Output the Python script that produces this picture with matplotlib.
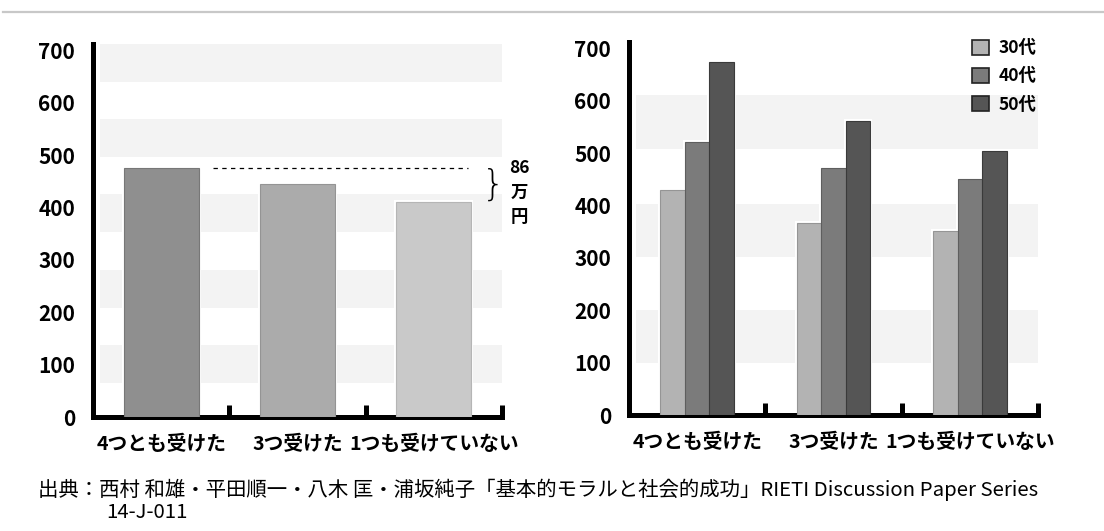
import matplotlib
matplotlib.use("Agg")
import matplotlib.pyplot as plt
from matplotlib.lines import Line2D
from matplotlib.patches import Patch
import numpy as np

plt.rcParams['font.family'] = ['Noto Sans CJK JP', 'DejaVu Sans']

# 年収（万円）: 4つの教えを受けた数ごと
categories = ['4つとも受けた', '3つ受けた', '1つも受けていない']
overall = [476, 444, 411]
overall_colors = ['#8f8f8f', '#ababab', '#c9c9c9']
gap_label = '86'

# 年代別
age_groups = ['30代', '40代', '50代']
age_30 = [429, 366, 351]
age_40 = [521, 471, 450]
age_50 = [674, 561, 504]
age_colors = ['#b3b3b3', '#7b7b7b', '#555555']

yticks = [0, 100, 200, 300, 400, 500, 600, 700]
left_bands = [(65, 137), (209, 281), (353, 425), (497, 568), (640, 712)]
right_bands = [(100, 200), (302, 403), (507, 610)]

W, H = 1104, 531
fig = plt.figure(figsize=(W / 100, H / 100), dpi=100)

# thin rule along the top
fig.add_artist(Line2D([3 / W, 1], [1 - 12 / H, 1 - 12 / H], color='#c8c8c8', lw=1.6))


def style_axes(ax, bands):
    ax.set_xlim(-0.5, 2.5)
    ax.set_ylim(0, 712)
    for lo, hi in bands:
        ax.axhspan(lo, hi, xmin=0.017, xmax=1, color='#f3f3f3', lw=0, zorder=0)
    for s in ['top', 'right']:
        ax.spines[s].set_visible(False)
    for s in ['left', 'bottom']:
        ax.spines[s].set_linewidth(3.6)
        ax.spines[s].set_color('black')
        ax.spines[s].set_capstyle('projecting')
    ax.set_yticks(yticks)
    ax.set_yticklabels([str(v) for v in yticks], fontsize=15, fontweight='bold')
    ax.tick_params(axis='y', length=0, pad=13)
    # boundary marks between categories, labels at centres
    ax.set_xticks([0.5, 1.5, 2.5])
    ax.set_xticklabels([])
    ax.tick_params(axis='x', which='major', direction='in', length=9, width=3.6, color='black')
    ax.set_xticks([0, 1, 2], minor=True)
    ax.set_xticklabels(categories, minor=True, fontsize=14.2, fontweight='bold')
    ax.tick_params(axis='x', which='minor', length=0, pad=13)


def halo_bars(ax, x, heights, width, colors, edge):
    ax.bar(x, heights, width, color='white', edgecolor='white', lw=3, zorder=2)
    return ax.bar(x, heights, width, color=colors, edgecolor=edge, lw=0.8, zorder=3)


# left: overall
ax1 = fig.add_axes([93 / W, 1 - 417 / H, 409 / W, 373 / H])
style_axes(ax1, left_bands)
x = np.arange(len(categories))
halo_bars(ax1, x, overall, 0.55, overall_colors, ['#777777', '#949494', '#b5b5b5'])

top, low = max(overall), min(overall)
ax1.plot([0.38, 2.25], [top, top], ls=(0, (3.5, 3.5)), color='black', lw=0.9, zorder=4)
ax1.text(2.44, (top + low) / 2, '}', fontsize=26, ha='center', va='center',
         family='DejaVu Sans', fontweight='light', clip_on=False)
ax1.text(2.63, top, gap_label, fontsize=12.5, fontweight='bold', ha='center', va='center')
ax1.text(2.63, top - 48, '万', fontsize=12.5, fontweight='bold', ha='center', va='center')
ax1.text(2.63, top - 94, '円', fontsize=12.5, fontweight='bold', ha='center', va='center')

# right: by age group
ax2 = fig.add_axes([629 / W, 1 - 415 / H, 409 / W, 373 / H])
style_axes(ax2, right_bands)
bw = 0.18
series = [age_30, age_40, age_50]
edges = ['#959595', '#5e5e5e', '#3a3a3a']
for i, vals in enumerate(series):
    ax2.bar(x + (i - 1) * bw, vals, bw, color='white', edgecolor='white', lw=3, zorder=2)
for i, vals in enumerate(series):
    ax2.bar(x + (i - 1) * bw, vals, bw, color=age_colors[i], edgecolor=edges[i],
            lw=0.8, zorder=3)

handles = [Patch(facecolor=c, edgecolor='#222222', lw=1.2) for c in age_colors]
fig.legend(handles, age_groups, loc='upper left', bbox_to_anchor=(972 / W, 1 - 39 / H),
           frameon=False, prop={'weight': 'bold', 'size': 12.5},
           handlelength=1.0, handleheight=0.95, handletextpad=0.55,
           labelspacing=0.6, borderpad=0, borderaxespad=0)

fig.text(38 / W, 1 - 490 / H,
         '出典：西村 和雄・平田順一・八木 匡・浦坂純子「基本的モラルと社会的成功」RIETI Discussion Paper Series',
         fontsize=14.7, va='center', ha='left')
fig.text(106 / W, 1 - 512 / H, '14-J-011', fontsize=14.7, va='center', ha='left')

fig.savefig('out.png', dpi=100, facecolor='white')
